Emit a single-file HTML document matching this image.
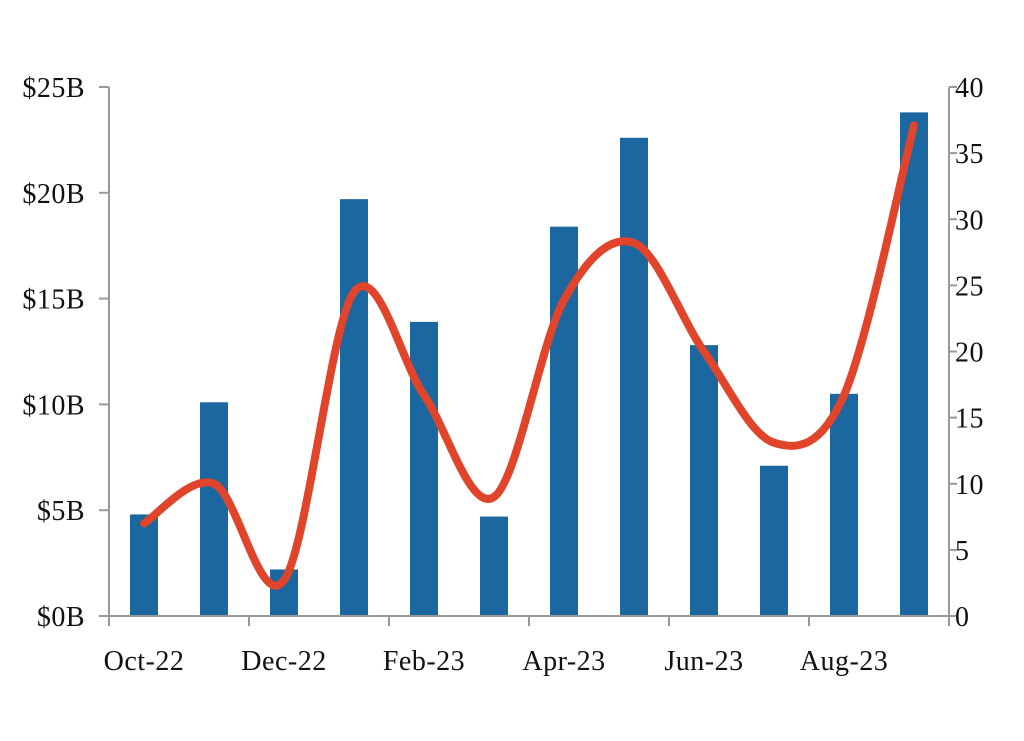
<!DOCTYPE html>
<html><head><meta charset="utf-8"><style>
html,body{margin:0;padding:0;background:#fff;}
svg{display:block;font-family:"Liberation Serif",serif;}
</style></head><body>
<svg id="chart" width="1024" height="741" viewBox="0 0 1024 741" xmlns="http://www.w3.org/2000/svg">
<g id="grid"></g><g id="bars"></g><g id="line"></g><g id="axes"></g>
</svg>
<script>
const categories = ["Oct-22","Nov-22","Dec-22","Jan-23","Feb-23","Mar-23","Apr-23","May-23","Jun-23","Jul-23","Aug-23","Sep-23"];
const barValues = [4.8,10.1,2.2,19.7,13.9,4.7,18.4,22.6,12.8,7.1,10.5,23.8];
const lineValues = [7.0,10.0,2.7,24.5,16.7,9.0,23.9,28.2,20.0,13.1,16.7,37.1];
const leftTicks = [0,5,10,15,20,25];
const leftTickLabels = ["$0B","$5B","$10B","$15B","$20B","$25B"];
const rightTicks = [0,5,10,15,20,25,30,35,40];

const NS="http://www.w3.org/2000/svg";
const X0=109, X1=949, Y0=616, Y1=87;
const band=(X1-X0)/categories.length;
const xC=i=>X0+band*(i+0.5);
const yL=v=>Y0-(v/25)*(Y0-Y1);
const yR=v=>Y0-(v/40)*(Y0-Y1);
function mk(tag,attrs,parent,text){const e=document.createElementNS(NS,tag);for(const k in attrs)e.setAttribute(k,attrs[k]);if(text!==undefined)e.textContent=text;parent.appendChild(e);return e;}
const gb=document.getElementById('bars'), gl=document.getElementById('line'), ga=document.getElementById('axes');

barValues.forEach((v,i)=>{
  const r=mk('rect',{x:xC(i)-14,y:yL(v),width:28,height:Y0-yL(v),fill:'#1B67A0'},gb);
  
  
});

const pts=lineValues.map((v,i)=>[xC(i),yR(v)]);
let d='M'+pts[0][0]+','+pts[0][1];
for(let i=0;i<pts.length-1;i++){
  const p0=pts[Math.max(0,i-1)],p1=pts[i],p2=pts[i+1],p3=pts[Math.min(pts.length-1,i+2)];
  const c1=[p1[0]+(p2[0]-p0[0])/6,p1[1]+(p2[1]-p0[1])/6];
  const c2=[p2[0]-(p3[0]-p1[0])/6,p2[1]-(p3[1]-p1[1])/6];
  d+=' C'+c1[0]+','+c1[1]+' '+c2[0]+','+c2[1]+' '+p2[0]+','+p2[1];
}
const path=mk('path',{d:d,fill:'none',stroke:'#E0442A','stroke-width':8,'stroke-linecap':'round','stroke-linejoin':'round'},gl);



const ax=mk('line',{x1:X0,y1:Y1,x2:X0,y2:Y0,stroke:'#999','stroke-width':2},ga);

const ar=mk('line',{x1:X1,y1:Y1,x2:X1,y2:Y0,stroke:'#999','stroke-width':2},ga);

const xb=mk('line',{x1:X0-10,y1:Y0,x2:X1+8,y2:Y0,stroke:'#999','stroke-width':2},ga);


leftTicks.forEach((t,i)=>{
  mk('line',{x1:X0-10,y1:yL(t),x2:X0,y2:yL(t),stroke:'#999','stroke-width':2},ga);
  const tx=mk('text',{x:X0-24,y:yL(t)+10,'text-anchor':'end','font-size':28,'letter-spacing':0.5,fill:'#111'},ga,leftTickLabels[i]);
  
  
});
rightTicks.forEach(t=>{
  mk('line',{x1:X1,y1:yR(t),x2:X1+8,y2:yR(t),stroke:'#999','stroke-width':2},ga);
  const tx=mk('text',{x:X1+6,y:yR(t)+10,'text-anchor':'start','font-size':28,'letter-spacing':0.5,fill:'#111'},ga,String(t));
  
  
});
for(let i=0;i<=categories.length;i+=2){
  mk('line',{x1:X0+band*i,y1:Y0,x2:X0+band*i,y2:Y0+10,stroke:'#999','stroke-width':2},ga);
}
categories.forEach((c,i)=>{
  if(i%2) return;
  const tx=mk('text',{x:xC(i),y:Y0+54,'text-anchor':'middle','font-size':28,'letter-spacing':0.5,fill:'#111'},ga,c);
  
  
});
</script>
</body></html>
